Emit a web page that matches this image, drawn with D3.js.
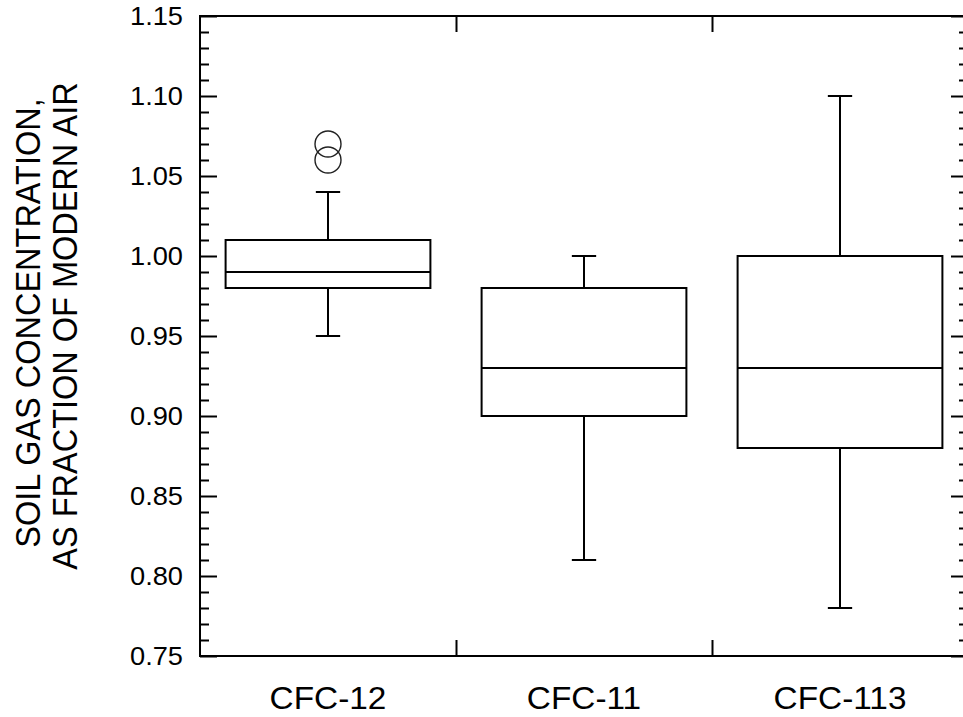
<!DOCTYPE html>
<html>
<head>
<meta charset="utf-8">
<script src="https://cdn.jsdelivr.net/npm/d3@7"></script>
<style>
  body { margin: 0; background: #fff; }
  svg { display: block; }
  text { font-family: "Liberation Sans", Arial, Helvetica, sans-serif; fill: #000; }
</style>
</head>
<body>
<script>
// data
const categories = ["CFC-12", "CFC-11", "CFC-113"]
const whiskerLow = [0.95, 0.81, 0.78]
const q1 = [0.98, 0.90, 0.88]
const median = [0.99, 0.93, 0.93]
const q3 = [1.01, 0.98, 1.00]
const whiskerHigh = [1.04, 1.00, 1.10]
const outliers = [[1.07, 1.06], [], []]
const yTicks = [0.75, 0.80, 0.85, 0.90, 0.95, 1.00, 1.05, 1.10, 1.15]
const yTitle = ["SOIL GAS CONCENTRATION,", "AS FRACTION OF MODERN AIR"]

const boxes = categories.map((c, i) => ({
  cat: c, lo: whiskerLow[i], q1: q1[i], med: median[i], q3: q3[i], hi: whiskerHigh[i], out: outliers[i]
}))

const width = 963, height = 717
const margin = { top: 16, right: -5, bottom: 61, left: 200 }
const innerW = width - margin.left - margin.right
const innerH = height - margin.top - margin.bottom

// the source picture is a bit wider than tall, so text gets stretched sideways
const sx = 1.09

const svg = d3.select("body").append("svg")
  .attr("width", width)
  .attr("height", height)

const g = svg.append("g")
  .attr("transform", `translate(${margin.left},${margin.top})`)

const x = d3.scaleBand().domain(categories).range([0, innerW]).padding(0)
const xb = d3.scaleLinear().domain([0, categories.length]).range([0, innerW])
const y = d3.scaleLinear().domain([0.75, 1.15]).range([innerH, 0])

const minor = d3.range(75, 116).map(v => v / 100).filter(v => Math.round(v * 100) % 5 !== 0)

const styleAxis = sel => {
  sel.select(".domain").remove()
  sel.selectAll(".tick line").attr("stroke", "#000").attr("stroke-width", 2)
}

// left axis
g.append("g")
  .call(d3.axisLeft(y).tickValues(yTicks).tickSize(-17).tickPadding(15.6).tickFormat(d3.format(".2f")))
  .call(styleAxis)
  .call(s => s.selectAll("text")
    .attr("font-size", 25).attr("font-family", null)
    .attr("transform", `scale(${sx},1)`))
g.append("g")
  .call(d3.axisLeft(y).tickValues(minor).tickSize(-9).tickFormat(""))
  .call(styleAxis)

// right axis
g.append("g").attr("transform", `translate(${innerW},0)`)
  .call(d3.axisRight(y).tickValues(yTicks).tickSize(-17).tickFormat(""))
  .call(styleAxis)
g.append("g").attr("transform", `translate(${innerW},0)`)
  .call(d3.axisRight(y).tickValues(minor).tickSize(-9).tickFormat(""))
  .call(styleAxis)

// bottom / top boundary ticks
g.append("g").attr("transform", `translate(0,${innerH})`)
  .call(d3.axisBottom(xb).tickValues(d3.range(1, categories.length)).tickSize(-16).tickFormat(""))
  .call(styleAxis)
g.append("g")
  .call(d3.axisTop(xb).tickValues(d3.range(1, categories.length)).tickSize(-16).tickFormat(""))
  .call(styleAxis)

// category labels
g.append("g").attr("transform", `translate(0,${innerH})`)
  .call(d3.axisBottom(x).tickSize(0).tickPadding(30.5))
  .call(styleAxis)
  .call(s => s.selectAll("text")
    .attr("font-size", 31.5).attr("font-family", null)
    .attr("transform", "scale(1.06,1)"))

// frame
g.append("rect")
  .attr("width", innerW)
  .attr("height", innerH)
  .attr("fill", "none")
  .attr("stroke", "#000")
  .attr("stroke-width", 2)

// boxes
const boxW = x.bandwidth() * 0.8
const capW = x.bandwidth() * 0.095

const bg = g.selectAll(".box")
  .data(boxes)
  .enter().append("g")
  .attr("class", "box")
  .attr("transform", d => `translate(${x(d.cat) + x.bandwidth() / 2},0)`)

bg.append("line")
  .attr("y1", d => y(d.hi)).attr("y2", d => y(d.q3))
bg.append("line")
  .attr("y1", d => y(d.q1)).attr("y2", d => y(d.lo))
bg.append("line")
  .attr("x1", -capW / 2).attr("x2", capW / 2)
  .attr("y1", d => y(d.hi)).attr("y2", d => y(d.hi))
bg.append("line")
  .attr("x1", -capW / 2).attr("x2", capW / 2)
  .attr("y1", d => y(d.lo)).attr("y2", d => y(d.lo))
bg.append("rect")
  .attr("x", -boxW / 2)
  .attr("width", boxW)
  .attr("y", d => y(d.q3))
  .attr("height", d => y(d.q1) - y(d.q3))
  .attr("fill", "none")
bg.append("line")
  .attr("x1", -boxW / 2).attr("x2", boxW / 2)
  .attr("y1", d => y(d.med)).attr("y2", d => y(d.med))
bg.selectAll("line, rect")
  .attr("stroke", "#000")
  .attr("stroke-width", 2)

bg.selectAll(".outlier")
  .data(d => d.out)
  .enter().append("circle")
  .attr("class", "outlier")
  .attr("cx", 0)
  .attr("cy", d => y(d))
  .attr("r", 13)
  .attr("fill", "none")
  .attr("stroke", "#222")
  .attr("stroke-width", 1.4)

// y title
svg.selectAll(".ytitle")
  .data(yTitle)
  .enter().append("text")
  .attr("class", "ytitle")
  .attr("transform", (d, i) => `translate(${40 + i * 37},${323 + i * 3}) scale(1.08,1) rotate(-90)`)
  .attr("text-anchor", "middle")
  .attr("font-size", 32.5)
  .text(d => d)
</script>
</body>
</html>
